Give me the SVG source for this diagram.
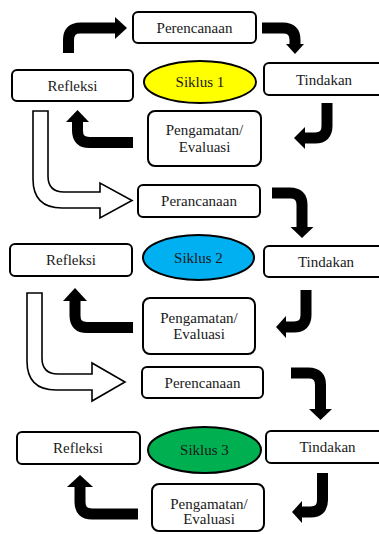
<svg xmlns="http://www.w3.org/2000/svg" width="379" height="534" viewBox="0 0 379 534">
<style>
.box{fill:#fff;stroke:#000;stroke-width:2}
.ell{stroke:#000;stroke-width:2}
.t{font-family:'Liberation Serif','Times New Roman','DejaVu Serif',serif;font-size:15px;fill:#1a1a1a;text-anchor:middle}
.sh{fill:none;stroke:#000;stroke-width:11}
.hd{fill:#000}
.hol{fill:#fff;stroke:#000;stroke-width:1.6;stroke-linejoin:miter}
</style>
<rect width="379" height="534" fill="#fff"/>
<g id="connectors">
  <path class="sh" d="M68.5,53 V40 Q68.5,28 80.5,28 H116"/>
  <polygon class="hd" points="115,17 127,28 115,39"/>
  <path class="sh" d="M262,28 H283 Q295,28 295,40 V45"/>
  <polygon class="hd" points="286,44 304,44 295,54"/>
  <path class="sh" d="M327,103 V126 Q327,138 315,138 H304"/>
  <polygon class="hd" points="305,127 305,149 294,138"/>
  <path class="sh" d="M133,142.5 H89.5 Q77.5,142.5 77.5,130.5 V121"/>
  <polygon class="hd" points="66,122 89,122 77.5,110"/>
  <path class="hol" d="M33,111 H48 V176 Q48,192 64,192 H100 V183 L132,200.5 L100,218 V208 H62 Q33,208 33,179 Z"/>

  <path class="sh" d="M272,193 H290 Q302,193 302,205 V228"/>
  <polygon class="hd" points="290.5,227 313.5,227 302,238"/>
  <path class="sh" d="M306,290 V315 Q306,327 294,327 H285"/>
  <polygon class="hd" points="286,316 286,338 276,327"/>
  <path class="sh" d="M133,327.5 H87 Q75,327.5 75,315.5 V300"/>
  <polygon class="hd" points="63,301 87,301 75,288"/>
  <path class="hol" d="M27,293 H42 V358 Q42,374 58,374 H92 V363 L125,382 L92,401 V390 H56 Q27,390 27,361 Z"/>

  <path class="sh" d="M291,373 H308.5 Q320.5,373 320.5,385 V410"/>
  <polygon class="hd" points="309,409 332,409 320.5,420"/>
  <path class="sh" d="M322.5,473 V500 Q322.5,512 310.5,512 H301"/>
  <polygon class="hd" points="302,501 302,523 292,512"/>
  <path class="sh" d="M138,514 H92 Q80,514 80,502 V486"/>
  <polygon class="hd" points="67,487 93,487 80,475"/>
</g>

<g id="perencanaan1"><rect class="box" x="133" y="12" width="123" height="31" rx="5"/><text class="t" x="194.5" y="33">Perencanaan</text></g>
<g id="refleksi1"><rect class="box" x="12" y="70" width="121" height="31" rx="5"/><text class="t" x="72.5" y="90.5">Refleksi</text></g>
<g id="siklus1"><ellipse class="ell" cx="200" cy="82" rx="56" ry="21" fill="#FFFF00"/><text class="t" x="200" y="87">Siklus 1</text></g>
<g id="tindakan1"><rect class="box" x="264" y="63" width="120" height="32" rx="5"/><text class="t" x="324" y="84.5">Tindakan</text></g>
<g id="pengamatan1"><rect class="box" x="148" y="111" width="113" height="55" rx="7"/><text class="t" x="204.5" y="135">Pengamatan/</text><text class="t" x="204.5" y="152">Evaluasi</text></g>

<g id="perancanaan2"><rect class="box" x="138" y="185" width="122" height="32" rx="5"/><text class="t" x="199" y="206">Perancanaan</text></g>
<g id="refleksi2"><rect class="box" x="10" y="244" width="122" height="32" rx="5"/><text class="t" x="71" y="265">Refleksi</text></g>
<g id="siklus2"><ellipse class="ell" cx="198.5" cy="257.5" rx="55.5" ry="22.5" fill="#00B0F0"/><text class="t" x="198.5" y="263">Siklus 2</text></g>
<g id="tindakan2"><rect class="box" x="264" y="246" width="120" height="31" rx="5"/><text class="t" x="326" y="266.5">Tindakan</text></g>
<g id="pengamatan2"><rect class="box" x="143" y="298" width="112" height="56" rx="7"/><text class="t" x="199" y="323">Pengamatan/</text><text class="t" x="199" y="339">Evaluasi</text></g>

<g id="perencanaan3"><rect class="box" x="142" y="367" width="121" height="31" rx="5"/><text class="t" x="202.5" y="387.5">Perencanaan</text></g>
<g id="refleksi3"><rect class="box" x="17" y="432" width="123" height="32" rx="5"/><text class="t" x="78" y="452.5">Refleksi</text></g>
<g id="siklus3"><ellipse class="ell" cx="204.5" cy="450" rx="56.5" ry="23" fill="#00B050"/><text class="t" x="204.5" y="455">Siklus 3</text></g>
<g id="tindakan3"><rect class="box" x="266" y="431" width="120" height="32" rx="5"/><text class="t" x="327.5" y="451.5">Tindakan</text></g>
<g id="pengamatan3"><rect class="box" x="152" y="484" width="112" height="47" rx="7"/><text class="t" x="209" y="508.5">Pengamatan/</text><text class="t" x="209" y="523.5">Evaluasi</text></g>
</svg>
